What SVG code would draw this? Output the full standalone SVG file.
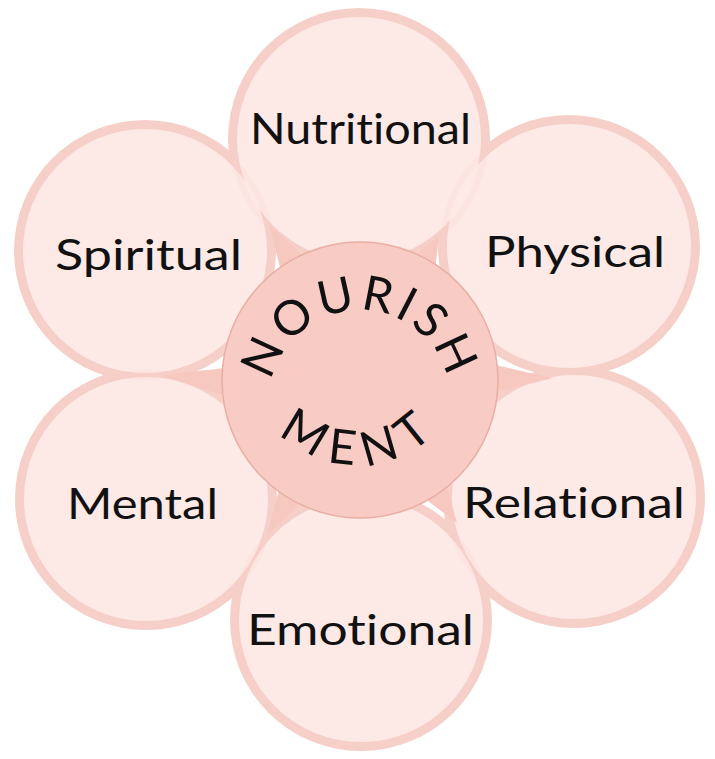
<svg xmlns="http://www.w3.org/2000/svg" width="715" height="759" viewBox="0 0 715 759">
<defs>
<style>
.ring{fill:#f6cfc8}
.fill{fill:#fde9e6}
.inner{fill:none;stroke:#f6cfc8;stroke-width:6;opacity:0.15}
.spike{fill:#f6c8c0}
.lbl{font-family:Lato,"Liberation Sans",sans-serif;font-weight:400;font-size:43px;fill:#111;font-variant-ligatures:none}
.arc{font-family:Lato,"Liberation Sans",sans-serif;font-weight:400;fill:#111;font-variant-ligatures:none}
</style>
<path id="topArc" d="M 275.4 430.8 A 90 90 0 1 1 444.6 430.8"/>
<path id="botArc" d="M 248 355 A 110 110 0 0 0 468 355"/>
</defs>
<rect width="715" height="759" fill="#fff"/>
<g id="petal-rings">
<circle class="ring" cx="359" cy="139" r="131"/>
<circle class="ring" cx="145" cy="251" r="131"/>
<circle class="ring" cx="569" cy="246" r="131"/>
<circle class="ring" cx="146" cy="499" r="131"/>
<circle class="ring" cx="574" cy="497" r="131"/>
<circle class="ring" cx="361" cy="620" r="131"/>
</g>
<g id="nutritional">
<circle class="fill" cx="359" cy="139" r="122"/>
</g>
<g id="spiritual">
<circle class="fill" cx="145" cy="251" r="122"/>
</g>
<g id="physical">
<circle class="fill" cx="569" cy="246" r="122"/>
</g>
<g id="mental">
<circle class="fill" cx="146" cy="499" r="122"/>
</g>
<g id="relational">
<circle class="fill" cx="574" cy="497" r="122"/>
</g>
<g id="emotional">
<circle class="fill" cx="361" cy="620" r="122"/>
</g>
<g id="petal-overlaps">
<circle class="inner" cx="359" cy="139" r="126"/>
<circle class="inner" cx="145" cy="251" r="126"/>
<circle class="inner" cx="569" cy="246" r="126"/>
<circle class="inner" cx="146" cy="499" r="126"/>
<circle class="inner" cx="574" cy="497" r="126"/>
<circle class="inner" cx="361" cy="620" r="126"/>
</g>
<g id="connectors">
<polygon class="spike" points="269,224 310.8,263.9 283.2,280.1"/>
<polygon class="spike" points="439,236 434.1,278.1 406.1,262.7"/>
<polygon class="spike" points="160,375 235.4,367 234.6,399"/>
<polygon class="spike" points="553,378 485.2,394.7 484.8,362.7"/>
<polygon class="spike" points="267,535 282,478.9 309.4,495.3"/>
<polygon class="spike" points="457,523 416.9,492.5 443.3,474.5"/>
</g>
<g id="labels">
<text class="lbl" x="250" y="144" textLength="221" lengthAdjust="spacingAndGlyphs">Nutritional</text>
<text class="lbl" x="55" y="270" textLength="187" lengthAdjust="spacingAndGlyphs">Spiritual</text>
<text class="lbl" x="485" y="267" textLength="180" lengthAdjust="spacingAndGlyphs">Physical</text>
<text class="lbl" x="67" y="519" textLength="151" lengthAdjust="spacingAndGlyphs">Mental</text>
<text class="lbl" x="463" y="518" textLength="222" lengthAdjust="spacingAndGlyphs">Relational</text>
<text class="lbl" x="247" y="645" textLength="227" lengthAdjust="spacingAndGlyphs">Emotional</text>
</g>
<g id="center">
<circle cx="360" cy="380" r="138" fill="#f8cbc4" stroke="#e9afa5" stroke-width="1.5"/>
<text class="arc" font-size="48" letter-spacing="4"><textPath href="#topArc" startOffset="50%" text-anchor="middle">NOURISH</textPath></text>
<text class="arc" font-size="48" letter-spacing="11"><textPath href="#botArc" startOffset="51%" text-anchor="middle">MENT</textPath></text>
</g>
</svg>
